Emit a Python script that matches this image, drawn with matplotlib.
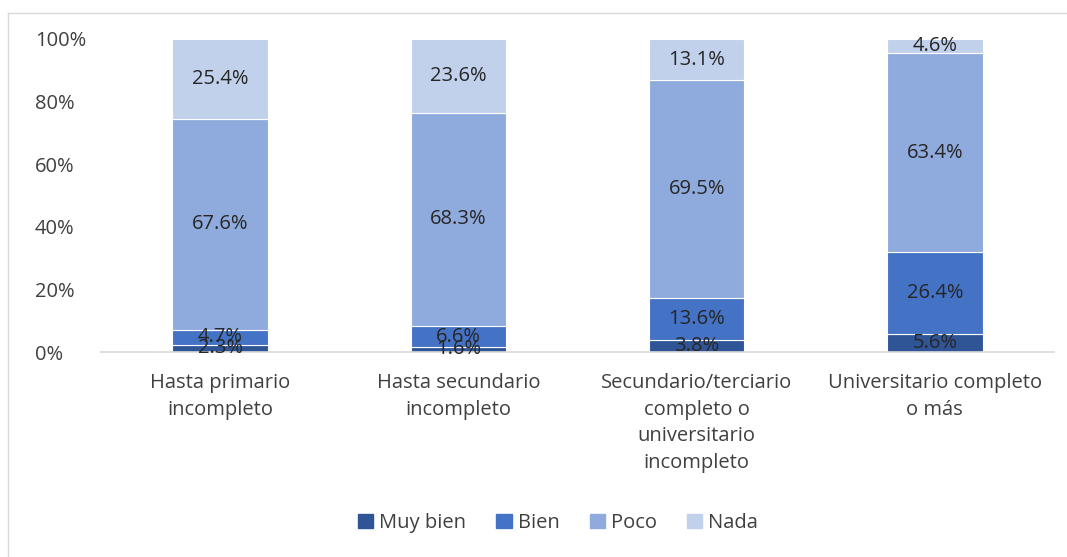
import matplotlib
matplotlib.use("Agg")
import matplotlib.pyplot as plt
from matplotlib.lines import Line2D
import numpy as np

categories = ["Hasta primario\nincompleto", "Hasta secundario\nincompleto",
              "Secundario/terciario\ncompleto o\nuniversitario\nincompleto",
              "Universitario completo\no más"]
series_names = ["Muy bien", "Bien", "Poco", "Nada"]
muy_bien = [2.3, 1.6, 3.8, 5.6]
bien = [4.7, 6.6, 13.6, 26.4]
poco = [67.6, 68.3, 69.5, 63.4]
nada = [25.4, 23.6, 13.1, 4.6]
colors = ["#2F5597", "#4472C4", "#8FAADC", "#C1D1EC"]
yticks = [0, 20, 40, 60, 80, 100]

plt.rcParams['font.family'] = ['Open Sans', 'DejaVu Sans']
FS = 14.5

W, H = 1067, 557
fig = plt.figure(figsize=(W / 100, H / 100), dpi=100)
ax = fig.add_axes([101 / W, 1 - 352 / H, (1054 - 101) / W, (352 - 39) / H])

x = np.arange(len(categories))
data = [muy_bien, bien, poco, nada]
bottom = np.zeros(len(categories))
for name, vals, c in zip(series_names, data, colors):
    vals = np.array(vals)
    ax.bar(x, vals, bottom=bottom, width=0.4, color=c, edgecolor="white",
           linewidth=0.8, label=name, zorder=2)
    for xi, b, v in zip(x, bottom, vals):
        ax.text(xi, b + v / 2, f"{v:.1f}%", ha="center", va="center",
                fontsize=FS, color="#262626", zorder=3)
    bottom = bottom + vals

ax.set_xlim(-0.5, len(categories) - 0.5)
ax.set_ylim(0, 100)
ax.set_yticks(yticks)
ax.set_yticklabels([f"{t}%" for t in yticks])
for lbl in ax.get_yticklabels():
    lbl.set_horizontalalignment("left")
ax.tick_params(axis="y", length=0, pad=47.5, labelsize=FS, labelcolor="#404040")
ax.set_xticks(x)
ax.set_xticklabels(categories, fontsize=FS, color="#404040", linespacing=1.45)
ax.tick_params(axis="x", length=0, pad=15)
for s in ["top", "right", "left"]:
    ax.spines[s].set_visible(False)
ax.spines["bottom"].set_color("#D9D9D9")
ax.spines["bottom"].set_linewidth(1.2)

handles = [plt.Rectangle((0, 0), 1, 1, color=c) for c in colors]
fig.legend(handles, series_names, loc="center", bbox_to_anchor=(558 / W, 1 - 523 / H),
           ncol=4, frameon=False, fontsize=FS, handlelength=0.75, handleheight=0.75,
           columnspacing=1.5, handletextpad=0.3, labelcolor="#404040")

# outer chart border
fig.add_artist(Line2D([8 / W, 1.0], [1 - 12.5 / H, 1 - 12.5 / H], transform=fig.transFigure,
                      color="#D9D9D9", linewidth=1))
fig.add_artist(Line2D([8 / W, 8 / W], [1 - 12.5 / H, 0], transform=fig.transFigure,
                      color="#D9D9D9", linewidth=1))

fig.savefig("out.png", dpi=100)
